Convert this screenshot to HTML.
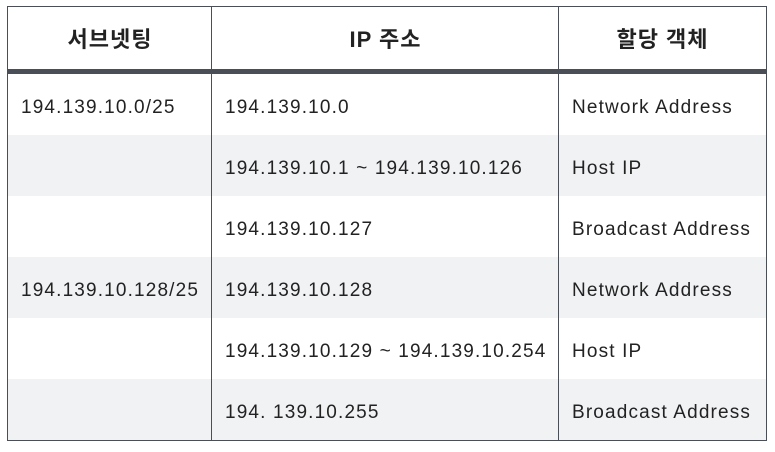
<!DOCTYPE html>
<html><head><meta charset="utf-8"><style>
body{margin:0;background:#fff;width:775px;height:452px;position:relative;font-family:"Liberation Sans","Noto Sans CJK KR",sans-serif;color:#222;}
.t{position:absolute;left:7px;top:6px;width:758px;height:433px;border:1px solid #4a4f57;box-sizing:content-box;}
.row{position:absolute;left:0;width:758px;height:61px;}
.g{background:#f1f2f4;}
.v{position:absolute;top:0;width:1px;height:433px;background:#4a4f57;}
.c{position:absolute;font-size:19px;line-height:61px;white-space:nowrap;letter-spacing:1.15px;margin-top:3px;}
.h{position:absolute;top:0;height:62px;line-height:66px;font-size:22px;font-weight:bold;text-align:center;letter-spacing:1px;}
.bar{position:absolute;left:0;top:62px;width:758px;height:5px;background:#4a4f57;}
</style></head><body>
<div class="t">
<div class="row g" style="top:128px"></div>
<div class="row g" style="top:250px"></div>
<div class="row g" style="top:372px"></div>
<div class="h" style="left:0;width:204px">서브넷팅</div>
<div class="h" style="left:204px;width:347px">IP 주소</div>
<div class="h" style="left:551px;width:207px">할당 객체</div>
<div class="bar"></div>
<div class="v" style="left:203px"></div>
<div class="v" style="left:550px"></div>
<div class="c" style="left:13px;top:67px">194.139.10.0/25</div>
<div class="c" style="left:13px;top:250px">194.139.10.128/25</div>
<div class="c" style="left:217px;top:67px">194.139.10.0</div>
<div class="c" style="left:217px;top:128px">194.139.10.1 ~ 194.139.10.126</div>
<div class="c" style="left:217px;top:189px">194.139.10.127</div>
<div class="c" style="left:217px;top:250px">194.139.10.128</div>
<div class="c" style="left:217px;top:311px">194.139.10.129 ~ 194.139.10.254</div>
<div class="c" style="left:217px;top:372px">194. 139.10.255</div>
<div class="c" style="left:564px;top:67px">Network Address</div>
<div class="c" style="left:564px;top:128px">Host IP</div>
<div class="c" style="left:564px;top:189px">Broadcast Address</div>
<div class="c" style="left:564px;top:250px">Network Address</div>
<div class="c" style="left:564px;top:311px">Host IP</div>
<div class="c" style="left:564px;top:372px">Broadcast Address</div>
</div>
</body></html>
